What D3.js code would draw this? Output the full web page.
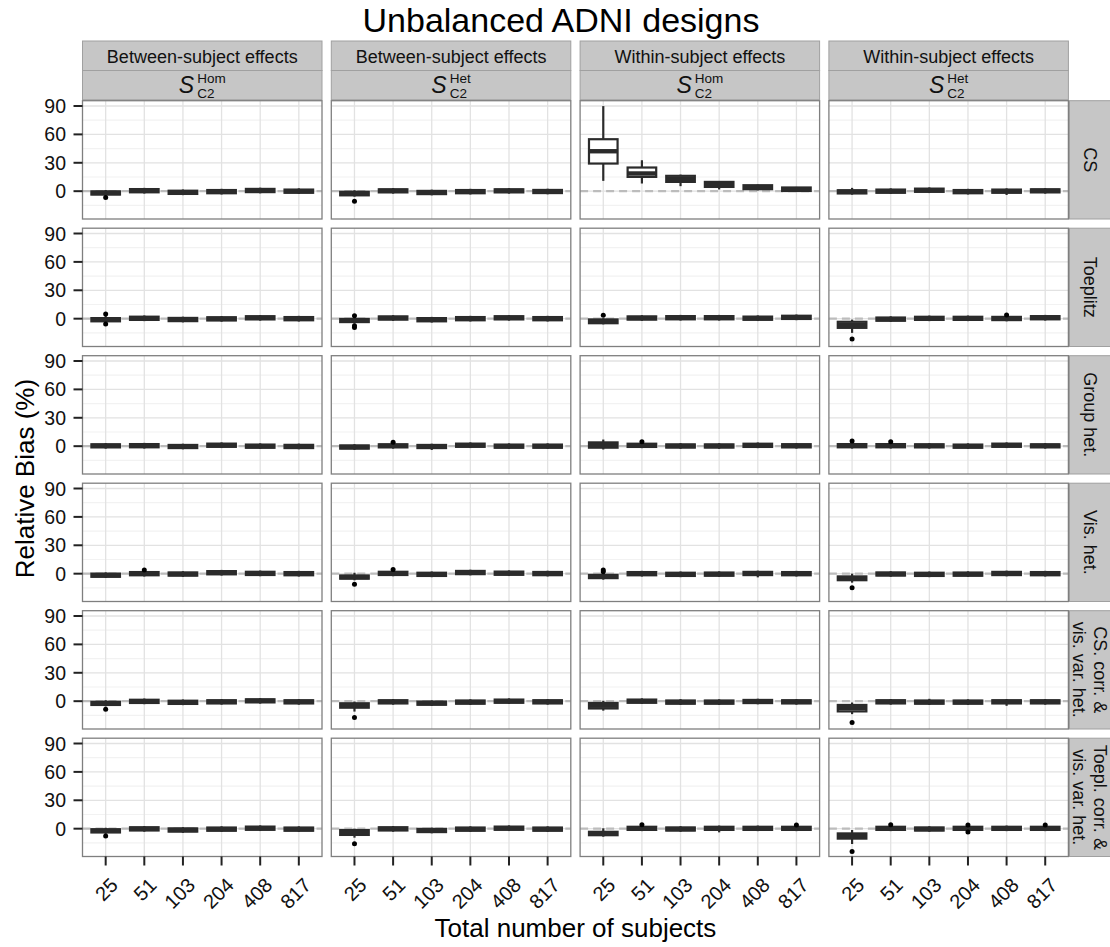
<!DOCTYPE html>
<html>
<head>
<meta charset="utf-8">
<script src="https://cdn.jsdelivr.net/npm/d3@7"></script>
<style>
  html, body { margin: 0; padding: 0; background: #fff; }
  svg { display: block; font-family: "Liberation Sans", Arial, Helvetica, sans-serif; }
</style>
</head>
<body>
<svg id="chart" width="1110" height="947"></svg>
<script>
// ---- data -----------------------------------------------------------------
// Total number of subjects (x categories)
const sizes = ["25", "51", "103", "204", "408", "817"];

// Column facets: effect type (top strip) and variance structure (second strip)
const effectLabels = ["Between-subject effects", "Between-subject effects",
                      "Within-subject effects", "Within-subject effects"];
const structureSup = ["Hom", "Het", "Hom", "Het"];

// Row facets: true covariance structure
const covLabels = [["CS"], ["Toeplitz"], ["Group het."], ["Vis. het."],
                   ["CS. corr. &", "vis. var. het."], ["Toepl. corr. &", "vis. var. het."]];

const yTicks = [0, 30, 60, 90];
const yMinor = [-15, 15, 45, 75];
const yDomain = [-29.4, 95.6];

// Box statistics per row: 4 column panels x 6 sizes, [lower whisker, Q1, median, Q3, upper whisker]
const boxesCS = [
  [[-5, -3.6, -1.9, -0.2, 1.2], [-2.5, -1.2, 0.5, 2.2, 3.5], [-4.2, -2.9, -1.2, 0.5, 1.8], [-3.5, -2.2, -0.5, 1.2, 2.5], [-2.3, -1.0, 0.7, 2.4, 3.7], [-3, -1.7, 0, 1.7, 3]],
  [[-5.8, -4.4, -2.5, -0.6, 1.0], [-2.6, -1.3, 0.4, 2.0, 3.3], [-4.4, -3.1, -1.4, 0.3, 1.6], [-3.5, -2.2, -0.5, 1.2, 2.5], [-2.6, -1.3, 0.4, 2.0, 3.3], [-3.3, -2.0, -0.4, 1.3, 2.6]],
  [[10.9, 29.2, 42.2, 54.9, 89.9], [8.1, 15.1, 18.7, 25.0, 32.7], [5.3, 9.8, 13.0, 16.2, 17.5], [1.8, 4.5, 7.0, 9.8, 10.5], [0.8, 2.1, 4.0, 6.3, 7.0], [-0.5, 0.2, 2.0, 3.9, 4.5]],
  [[-3.7, -2.4, -0.7, 1.0, 3.5], [-3, -1.7, 0, 1.7, 3], [-2, -0.7, 1, 2.7, 4], [-3.5, -2.2, -0.5, 1.2, 2.5], [-4, -1.7, 0, 1.7, 3], [-2.6, -1.3, 0.4, 2.0, 3.3]]
];
const boxesToeplitz = [
  [[-4.1, -2.8, -1.1, 0.6, 3.0], [-2.6, -1.3, 0.4, 2.1, 3.4], [-3.9, -2.6, -0.9, 0.8, 2.1], [-3.2, -1.9, -0.2, 1.5, 2.8], [-2.1, -0.8, 0.9, 2.6, 3.9], [-3, -1.7, 0, 1.7, 3]],
  [[-5, -3.6, -1.9, -0.2, 1.5], [-2.3, -1.0, 0.7, 2.4, 3.7], [-4.1, -2.8, -1.1, 0.6, 1.9], [-3, -1.7, 0, 1.7, 3], [-2.1, -0.8, 0.9, 2.6, 3.9], [-3, -1.7, 0, 1.7, 3]],
  [[-6, -4.8, -2.8, -0.8, 0.5], [-2.3, -1.0, 0.7, 2.4, 3.7], [-2, -0.7, 1, 2.7, 4], [-2, -0.7, 1, 2.7, 4], [-2.5, -1.2, 0.5, 2.2, 3.5], [-1.6, -0.3, 1.4, 3.1, 4.4]],
  [[-15, -9.7, -6.5, -3.3, -1], [-3.5, -2.2, -0.5, 1.2, 2.5], [-2.6, -1.3, 0.4, 2.0, 3.3], [-2.6, -1.3, 0.4, 2.0, 3.3], [-2.8, -1.5, 0.2, 1.9, 3.0], [-2, -0.7, 1, 2.7, 4]]
];
const boxesGroupHet = [
  [[-2.6, -1.3, 0.4, 2.0, 3.3], [-2.5, -1.2, 0.5, 2.2, 3.5], [-3.3, -2.0, -0.4, 1.3, 2.6], [-2, -0.7, 1, 2.7, 4], [-3, -1.7, 0, 1.7, 3], [-3.3, -2.0, -0.3, 1.4, 2.7]],
  [[-3.9, -2.6, -0.9, 0.8, 2.1], [-2.6, -1.3, 0.4, 2.0, 3.3], [-4, -2.0, -0.4, 1.3, 2.6], [-2, -0.7, 1, 2.7, 4], [-3, -1.7, 0, 1.7, 3], [-3, -1.7, 0, 1.7, 3]],
  [[-3.5, -1.6, 1.2, 4.0, 7.0], [-2.1, -0.8, 0.9, 2.6, 3.9], [-2.8, -1.5, 0.2, 1.9, 3.2], [-2.8, -1.5, 0.2, 1.9, 3.2], [-2.1, -0.8, 0.9, 2.6, 3.9], [-2.6, -1.3, 0.4, 2.1, 3.4]],
  [[-2.5, -1.2, 0.5, 2.2, 3.5], [-2.5, -1.2, 0.5, 2.2, 3.5], [-2.6, -1.3, 0.4, 2.0, 3.3], [-3, -1.7, 0, 1.7, 3], [-2, -0.7, 1, 2.7, 4], [-2.6, -1.3, 0.4, 2.0, 3.3]]
];
const boxesVisHet = [
  [[-4.6, -3.3, -1.6, 0.1, 1.4], [-3, -1.7, 0, 1.7, 3], [-3.4, -2.1, -0.4, 1.3, 2.6], [-2, -0.7, 1, 2.7, 4], [-2.7, -1.4, 0.3, 2.0, 3.3], [-3, -1.7, 0, 1.7, 3]],
  [[-7, -5.3, -3.6, -1.9, 1.0], [-2.7, -1.4, 0.3, 2.0, 3.3], [-3.7, -2.4, -0.7, 1.0, 2.3], [-1.8, -0.5, 1.2, 2.9, 4.2], [-2.5, -1.2, 0.5, 2.2, 3.5], [-2.9, -1.6, 0.1, 1.8, 3.1]],
  [[-6.3, -4.7, -3, -1.3, 0.5], [-3, -1.7, 0, 1.7, 3], [-3.7, -2.4, -0.7, 1.0, 2.3], [-3.5, -2.2, -0.5, 1.2, 2.5], [-3.9, -1.5, 0.2, 1.9, 3.2], [-3, -1.7, 0, 1.7, 3]],
  [[-9.5, -6.9, -4.9, -2.9, 0], [-3.3, -2.0, -0.4, 1.3, 2.6], [-3.7, -2.4, -0.7, 1.0, 2.3], [-3.5, -2.2, -0.5, 1.2, 2.5], [-2.8, -1.5, 0.2, 1.9, 3.2], [-3, -1.7, 0, 1.7, 3]]
];
const boxesCSCorr = [
  [[-5.5, -4.0, -2.3, -0.6, 1.0], [-3.2, -1.9, -0.2, 1.5, 2.8], [-4.2, -2.9, -1.2, 0.5, 1.8], [-3.7, -2.4, -0.7, 1.0, 2.3], [-2.6, -1.3, 0.4, 2.0, 3.3], [-3.7, -2.4, -0.7, 1.0, 2.3]],
  [[-11, -6.9, -4.6, -2.2, -0.4], [-3.7, -2.4, -0.7, 1.0, 2.3], [-5.1, -3.8, -2.1, -0.4, 0.9], [-4, -2.7, -1, 0.7, 2], [-3, -1.7, 0, 1.7, 3], [-3.7, -2.4, -0.7, 1.0, 2.3]],
  [[-10, -7.7, -4.8, -1.9, 0.4], [-3, -1.7, 0, 1.7, 3], [-4, -2.7, -1, 0.7, 2.2], [-4, -2.7, -1, 0.7, 2], [-3.3, -2.0, -0.4, 1.3, 2.6], [-3.7, -2.4, -0.7, 1.0, 2.3]],
  [[-13.7, -10.8, -7.4, -4, -1.4], [-3.7, -2.4, -0.7, 1.0, 2.3], [-4, -2.7, -1, 0.7, 2.5], [-4, -2.7, -1, 0.7, 2], [-4.9, -2.4, -0.7, 1.0, 2.3], [-3.7, -2.4, -0.7, 1.0, 2.3]]
];
const boxesToeplCorr = [
  [[-5.5, -4.0, -2.3, -0.6, 1.0], [-3.2, -1.9, -0.2, 1.5, 2.8], [-4.4, -3.1, -1.4, 0.3, 1.6], [-3.5, -2.2, -0.5, 1.2, 2.5], [-2.5, -1.2, 0.5, 2.2, 3.5], [-3.5, -2.2, -0.5, 1.2, 2.5]],
  [[-9.5, -6.6, -4, -1.5, 0], [-3.2, -1.9, -0.2, 1.5, 2.8], [-4.9, -3.6, -1.9, -0.2, 1.1], [-3.5, -2.2, -0.5, 1.2, 2.5], [-2.5, -1.2, 0.5, 2.2, 3.5], [-3.5, -2.2, -0.5, 1.2, 2.5]],
  [[-8.5, -6.9, -5.1, -3.3, 0.4], [-2.6, -1.3, 0.4, 2.0, 3.3], [-3.3, -2.0, -0.4, 1.3, 2.6], [-3.9, -1.3, 0.4, 2.0, 3.3], [-2.6, -1.3, 0.4, 2.0, 3.3], [-2.6, -1.3, 0.4, 2.0, 3.3]],
  [[-16.2, -10.5, -7.7, -5, -1.4], [-2.6, -1.3, 0.4, 2.0, 3.3], [-3.3, -2.0, -0.4, 1.3, 2.6], [-2.6, -1.3, 0.4, 2.0, 3.3], [-2.6, -1.3, 0.4, 2.0, 3.3], [-2.6, -1.3, 0.4, 2.0, 3.3]]
];

// Outlying replications per row: [column, size, relative bias]
const outliersCS = [[0, "25", -6.7], [1, "25", -10.6]];
const outliersToeplitz = [[0, "25", 4.9], [0, "25", -5.6], [1, "25", 3.0], [1, "25", -7.5], [1, "25", -9.2],
                          [2, "25", 3.5], [3, "25", -21.5], [3, "408", 3.9]];
const outliersGroupHet = [[1, "51", 4.2], [2, "51", 4.6], [3, "25", 5.6], [3, "51", 4.6]];
const outliersVisHet = [[0, "51", 3.8], [1, "25", -11.3], [1, "51", 4.5], [2, "25", 2.0], [2, "25", 3.8], [3, "25", -14.8]];
const outliersCSCorr = [[0, "25", -8.5], [1, "25", -17.3], [3, "25", -22.5]];
const outliersToeplCorr = [[0, "25", -7.7], [1, "25", -15.8], [2, "51", 4.2], [2, "817", 3.9],
                           [3, "25", -24], [3, "51", 4.2], [3, "204", 4.0], [3, "204", -3.6], [3, "817", 3.9]];

const rowBoxes = [boxesCS, boxesToeplitz, boxesGroupHet, boxesVisHet, boxesCSCorr, boxesToeplCorr];
const rowOutliers = [outliersCS, outliersToeplitz, outliersGroupHet, outliersVisHet, outliersCSCorr, outliersToeplCorr];

// ---- layout -----------------------------------------------------------------
const panelLeft = 82.5, panelTop = 100.7;
const pw = 239.5, ph = 118.3;
const colStep = 248.8, rowStep = 127.5;
const stripTop = 41, stripMid = 70.5;
const rightStripX = 1069.5, rightStripW = 45;

const svg = d3.select("#chart");

const x = d3.scalePoint().domain(sizes).range([0, pw]).padding(0.6);
const y = d3.scaleLinear().domain(yDomain).range([ph, 0]);
const boxW = x.step() * 0.74;

const ink = "#2b2b2b";
const boxStroke = 2.2;

// Title
svg.append("text")
  .attr("x", 561).attr("y", 32)
  .attr("text-anchor", "middle")
  .attr("font-size", 34)
  .attr("fill", "#000")
  .text("Unbalanced ADNI designs");

// Column strips
effectLabels.forEach((lab, c) => {
  const x0 = panelLeft + c * colStep;
  const cx = x0 + pw / 2;
  svg.append("rect").attr("x", x0).attr("y", stripTop).attr("width", pw).attr("height", stripMid - stripTop)
    .attr("fill", "#c6c6c6").attr("stroke", "#a0a0a0").attr("stroke-width", 1);
  svg.append("rect").attr("x", x0).attr("y", stripMid).attr("width", pw).attr("height", panelTop - 1 - stripMid)
    .attr("fill", "#c6c6c6").attr("stroke", "#a0a0a0").attr("stroke-width", 1);
  svg.append("text").attr("x", cx).attr("y", 63.3).attr("text-anchor", "middle")
    .attr("font-size", 18).attr("fill", "#111").text(lab);

  // S with subscript C2 and superscript Hom/Het
  const g = svg.append("g");
  const s = g.append("text").attr("x", 0).attr("y", 93).attr("font-size", 23)
    .attr("font-style", "italic").attr("fill", "#111").text("S");
  const sw = s.node().getComputedTextLength();
  const sup = g.append("text").attr("x", sw + 3).attr("y", 83).attr("font-size", 13.5)
    .attr("fill", "#111").text(structureSup[c]);
  const sub = g.append("text").attr("x", sw + 3).attr("y", 98).attr("font-size", 13.5)
    .attr("fill", "#111").text("C2");
  const total = sw + 3 + Math.max(sup.node().getComputedTextLength(), sub.node().getComputedTextLength());
  g.attr("transform", `translate(${cx - total / 2},0)`);
});

// Panels
rowBoxes.forEach((rowData, r) => {
  const y0 = panelTop + r * rowStep;

  // Row strip on the right
  svg.append("rect").attr("x", rightStripX).attr("y", y0).attr("width", rightStripW).attr("height", ph)
    .attr("fill", "#c6c6c6").attr("stroke", "#a0a0a0").attr("stroke-width", 1);
  const lines = covLabels[r];
  const lab = svg.append("text")
    .attr("transform", `translate(1090,${y0 + ph / 2}) rotate(90)`)
    .attr("text-anchor", "middle").attr("font-size", 18).attr("fill", "#111");
  lines.forEach((t, i) => {
    lab.append("tspan").attr("x", 0)
      .attr("y", (i - (lines.length - 1) / 2) * 21.5)
      .attr("dy", "0.35em").text(t);
  });

  rowData.forEach((panelData, c) => {
    const x0 = panelLeft + c * colStep;
    const g = svg.append("g").attr("transform", `translate(${x0},${y0})`);

    g.append("rect").attr("width", pw).attr("height", ph).attr("fill", "#fff");

    // grid
    g.selectAll(".minor").data(yMinor).join("line")
      .attr("x1", 0).attr("x2", pw).attr("y1", d => y(d)).attr("y2", d => y(d))
      .attr("stroke", "#f2f2f2").attr("stroke-width", 1.2);
    g.selectAll(".major").data(yTicks).join("line")
      .attr("x1", 0).attr("x2", pw).attr("y1", d => y(d)).attr("y2", d => y(d))
      .attr("stroke", "#e2e2e2").attr("stroke-width", 1.3);
    g.selectAll(".vgrid").data(sizes).join("line")
      .attr("x1", d => x(d)).attr("x2", d => x(d)).attr("y1", 0).attr("y2", ph)
      .attr("stroke", "#e2e2e2").attr("stroke-width", 1.3);

    // zero reference
    g.append("line").attr("x1", 0).attr("x2", pw).attr("y1", y(0)).attr("y2", y(0))
      .attr("stroke", "#bcbcbc").attr("stroke-width", 2.2).attr("stroke-dasharray", "8,5");

    // boxplots
    const bx = g.selectAll(".box").data(panelData.map((d, i) => ({ k: sizes[i], s: d }))).join("g");
    bx.append("line")
      .attr("x1", d => x(d.k)).attr("x2", d => x(d.k))
      .attr("y1", d => y(d.s[4])).attr("y2", d => y(d.s[3]))
      .attr("stroke", ink).attr("stroke-width", boxStroke);
    bx.append("line")
      .attr("x1", d => x(d.k)).attr("x2", d => x(d.k))
      .attr("y1", d => y(d.s[1])).attr("y2", d => y(d.s[0]))
      .attr("stroke", ink).attr("stroke-width", boxStroke);
    bx.append("rect")
      .attr("x", d => x(d.k) - boxW / 2).attr("width", boxW)
      .attr("y", d => y(d.s[3])).attr("height", d => y(d.s[1]) - y(d.s[3]))
      .attr("fill", "#fff").attr("stroke", ink).attr("stroke-width", boxStroke);
    bx.append("line")
      .attr("x1", d => x(d.k) - boxW / 2).attr("x2", d => x(d.k) + boxW / 2)
      .attr("y1", d => y(d.s[2])).attr("y2", d => y(d.s[2]))
      .attr("stroke", ink).attr("stroke-width", boxStroke * 2);

    // outliers
    g.selectAll(".out").data(rowOutliers[r].filter(o => o[0] === c)).join("circle")
      .attr("cx", d => x(d[1])).attr("cy", d => y(d[2])).attr("r", 2.5).attr("fill", "#000");

    // border
    g.append("rect").attr("width", pw).attr("height", ph)
      .attr("fill", "none").attr("stroke", "#7f7f7f").attr("stroke-width", 1.3);

    // y axis on the first column
    if (c === 0) {
      const ya = g.append("g");
      ya.selectAll("line").data(yTicks).join("line")
        .attr("x1", -9).attr("x2", 0).attr("y1", d => y(d)).attr("y2", d => y(d))
        .attr("stroke", "#222").attr("stroke-width", 2);
      ya.selectAll("text").data(yTicks).join("text")
        .attr("x", -16.5).attr("y", d => y(d)).attr("dy", "0.36em")
        .attr("text-anchor", "end").attr("font-size", 19.5).attr("fill", "#111")
        .text(d => d);
    }
    // x axis on the last row
    if (r === rowBoxes.length - 1) {
      const xa = g.append("g").attr("transform", `translate(0,${ph})`);
      xa.selectAll("line").data(sizes).join("line")
        .attr("x1", d => x(d)).attr("x2", d => x(d)).attr("y1", 0).attr("y2", 9)
        .attr("stroke", "#222").attr("stroke-width", 2);
      xa.selectAll("text").data(sizes).join("text")
        .attr("transform", d => `translate(${x(d) + 8.5},${25}) rotate(-45)`)
        .attr("text-anchor", "end").attr("dy", "0.35em")
        .attr("font-size", 20).attr("fill", "#111")
        .text(d => d);
    }
  });
});

// Axis titles
svg.append("text")
  .attr("x", panelLeft + (3 * colStep + pw) / 2).attr("y", 937)
  .attr("text-anchor", "middle").attr("font-size", 26).attr("fill", "#000")
  .text("Total number of subjects");
svg.append("text")
  .attr("transform", `translate(34,${panelTop + (5 * rowStep + ph) / 2}) rotate(-90)`)
  .attr("text-anchor", "middle").attr("font-size", 26).attr("fill", "#000")
  .text("Relative Bias (%)");
</script>
</body>
</html>
